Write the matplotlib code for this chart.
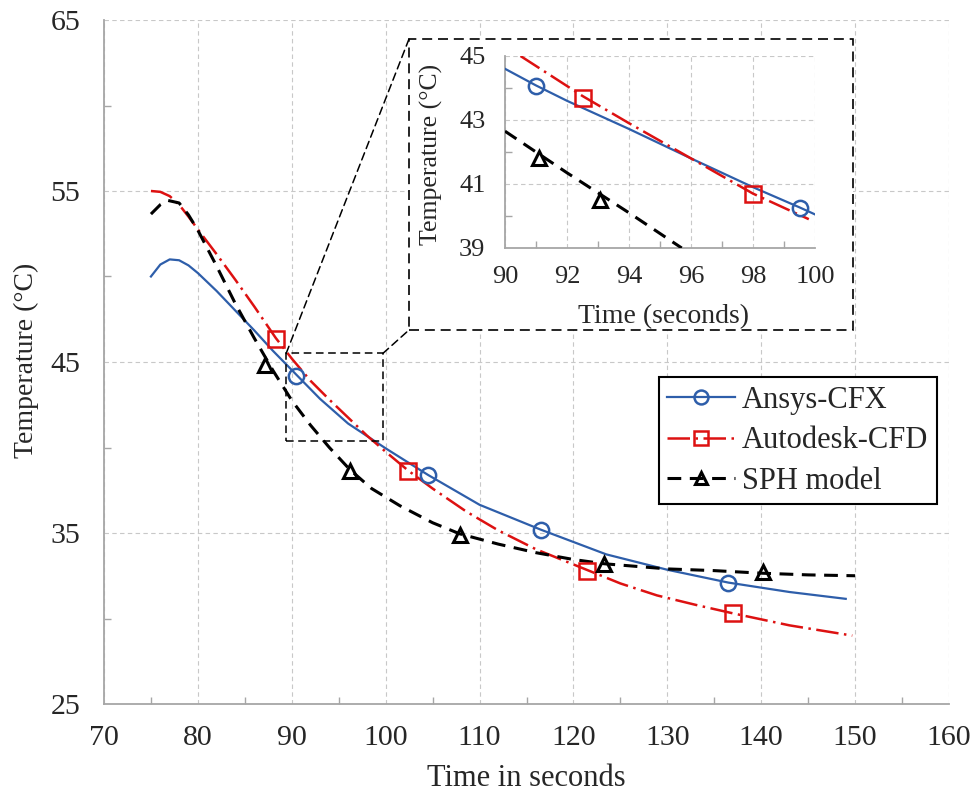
import matplotlib.pyplot as plt
from matplotlib.lines import Line2D
from matplotlib.patches import Rectangle, ConnectionPatch
from matplotlib.ticker import MultipleLocator, FixedLocator

plt.rcParams['font.family'] = ['Liberation Serif', 'DejaVu Serif']

# ---- main panel data ----
cfx_t = [75, 76, 77, 78, 79, 80, 82, 84, 86, 88, 90.5, 93, 96, 100, 104.5, 110, 116.5, 123.5, 130, 136.5, 143, 149]
cfx_T = [50.0, 50.7, 51.0, 50.95, 50.65, 50.2, 49.15, 48.0, 46.85, 45.65, 44.25, 42.85, 41.4, 39.95, 38.4, 36.65,
         35.2, 33.75, 32.85, 32.1, 31.55, 31.15]
cfx_mk_t = [90.5, 104.5, 116.5, 136.5]
cfx_mk_T = [44.2, 38.4, 35.2, 32.1]

cfd_t = [75, 76, 77, 78, 79, 80, 82, 84, 86, 88.3, 90, 92, 94, 96, 98, 100, 102.4, 105, 108.6, 112, 116,
         121.4, 125, 128.9, 133, 137, 143, 149.7]
cfd_T = [55.0, 54.95, 54.7, 54.2, 53.5, 52.75, 51.3, 49.8, 48.25, 46.4, 45.2, 43.9, 42.8, 41.75, 40.7, 39.75,
         38.65, 37.6, 36.25, 35.15, 34.05, 32.85, 32.05, 31.35, 30.8, 30.3, 29.6, 29.0]
cfd_mk_t = [88.3, 102.4, 121.4, 137.0]
cfd_mk_T = [46.35, 38.6, 32.8, 30.3]

sph_t = [75, 76, 76.8, 78, 79, 80, 82, 84, 86, 88, 90, 92, 94, 96.2, 98.5, 101.5, 105, 107.9, 112, 116, 120,
         123.3, 130, 135, 140, 145, 150]
sph_T = [53.65, 54.2, 54.45, 54.3, 53.6, 52.7, 50.6, 48.4, 46.4, 44.5, 42.75, 41.3, 40.0, 38.7, 37.6, 36.6, 35.6,
         34.95, 34.35, 33.85, 33.45, 33.2, 32.9, 32.8, 32.65, 32.55, 32.5]
sph_mk_t = [87.1, 96.2, 107.9, 123.3, 140.2]
sph_mk_T = [44.8, 38.6, 34.9, 33.2, 32.7]

# ---- inset data ----
in_cfx_t = [90, 91, 92, 94, 96, 98, 99.5, 100]
in_cfx_T = [44.6, 44.08, 43.6, 42.72, 41.8, 40.9, 40.27, 40.05]
in_cfx_mk_t = [91.0, 99.5]
in_cfx_mk_T = [44.06, 40.25]

in_cfd_t = [90.5, 92.5, 94, 96, 98, 99.8]
in_cfd_T = [45.0, 43.75, 42.9, 41.8, 40.7, 39.9]
in_cfd_mk_t = [92.5, 98.0]
in_cfd_mk_T = [43.7, 40.7]

in_sph_t = [90, 92, 94, 95.7]
in_sph_T = [42.65, 41.35, 40.1, 39.0]
in_sph_mk_t = [91.1, 93.06]
in_sph_mk_T = [41.8, 40.5]

labels = ['Ansys-CFX', 'Autodesk-CFD', 'SPH model']
zoom_box = (89.4, 40.4, 10.3, 5.1)   # x0, y0, width, height of the zoomed window

BLUE = '#2e5eaa'
RED = '#dd1111'
BLACK = '#000000'
GRID = '#c8c8c8'
SPINE = '#a6a6a6'
TXT = '#262626'

red_dash = (0, (9, 2.2, 1, 2.2))
blk_dash = (0, (4.5, 2.8))

styles = [
    dict(color=BLUE, lw=1.6, ls='-', marker='o', ms=11, mew=1.8),
    dict(color=RED, lw=1.8, ls=red_dash, marker='s', ms=11, mew=1.8),
    dict(color=BLACK, lw=2.2, ls=blk_dash, marker='^', ms=10, mew=2.2),
]


def style_axes(a, size, xpad, ypad):
    a.grid(True, which='major', color=GRID, ls=(0, (4, 3)), lw=0.8)
    a.set_axisbelow(True)
    for s in ['top', 'right']:
        a.spines[s].set_visible(False)
    for s in ['left', 'bottom']:
        a.spines[s].set_color(SPINE)
        a.spines[s].set_linewidth(1.3)
    a.tick_params(which='major', length=0, labelsize=size, labelcolor=TXT)
    a.tick_params(axis='x', which='major', pad=xpad)
    a.tick_params(axis='y', which='major', pad=ypad)
    a.tick_params(which='minor', direction='in', length=5, width=1, color=SPINE)


def draw_series(a, data):
    for (t, T, mt, mT), st in zip(data, styles):
        a.plot(t, T, color=st['color'], lw=st['lw'], ls=st['ls'], zorder=3)
        a.plot(mt, mT, ls='none', marker=st['marker'], ms=st['ms'], mfc='none',
               mec=st['color'], mew=st['mew'], zorder=4)


fig = plt.figure(figsize=(9.77, 7.92), dpi=100)
ax = fig.add_axes([104 / 977, 1 - 704 / 792, 845 / 977, 684 / 792])

draw_series(ax, [(cfx_t, cfx_T, cfx_mk_t, cfx_mk_T),
                 (cfd_t, cfd_T, cfd_mk_t, cfd_mk_T),
                 (sph_t, sph_T, sph_mk_t, sph_mk_T)])

ax.set_xlim(70, 160)
ax.set_ylim(25, 65)
ax.xaxis.set_major_locator(MultipleLocator(10))
ax.xaxis.set_minor_locator(MultipleLocator(5))
ax.yaxis.set_major_locator(FixedLocator([25, 35, 45, 55, 65]))
ax.yaxis.set_minor_locator(FixedLocator([30, 40, 50, 60]))
style_axes(ax, 21.5, 15, 17)

ax.set_xlabel('Time in seconds', fontsize=22, color=TXT)
ax.set_ylabel('Temperature (°C)', fontsize=20, color=TXT)
ax.xaxis.set_label_coords(0.5, -0.087)
ax.yaxis.set_label_coords(-0.077, 0.503)

# legend
handles = [Line2D([], [], color=st['color'], lw=st['lw'], ls=st['ls'], marker=st['marker'], ms=st['ms'] - 1,
                  mfc='none', mec=st['color'], mew=st['mew']) for st in styles]
leg = ax.legend(handles, labels, loc='upper right', bbox_to_anchor=(0.986, 0.478), fancybox=False,
                edgecolor='black', framealpha=1, fontsize=22, handlelength=2.2, handletextpad=0.25,
                labelspacing=0.38, borderpad=0.28, borderaxespad=0)
leg.get_frame().set_linewidth(1.5)
for t in leg.get_texts():
    t.set_color(TXT)
leg.set_zorder(5)

# zoom window in main panel
ax.add_patch(Rectangle(zoom_box[:2], zoom_box[2], zoom_box[3], fill=False, ec=BLACK, lw=1.1,
                       ls=(0, (5, 3)), zorder=5))

# dashed frame around the inset (figure coordinates)
bx0, bx1 = 409 / 977, 853 / 977
by0, by1 = 1 - 330 / 792, 1 - 39 / 792
fig.patches.append(Rectangle((bx0, by0), bx1 - bx0, by1 - by0, transform=fig.transFigure, fc='white',
                             ec=BLACK, lw=1.2, ls=(0, (6, 3.5)), zorder=2))
for xa, xb in [((zoom_box[0], zoom_box[1] + zoom_box[3]), (bx0, by1)),
               ((zoom_box[0] + zoom_box[2], zoom_box[1] + zoom_box[3]), (bx0, by0))]:
    fig.add_artist(ConnectionPatch(xyA=xa, coordsA=ax.transData, xyB=xb, coordsB=fig.transFigure,
                                   color=BLACK, lw=1.1, ls=(0, (5, 3)), zorder=2))

# inset axes
ax_in = fig.add_axes([505 / 977, 1 - 248 / 792, 310 / 977, 192 / 792])
ax_in.set_zorder(3)
draw_series(ax_in, [(in_cfx_t, in_cfx_T, in_cfx_mk_t, in_cfx_mk_T),
                    (in_cfd_t, in_cfd_T, in_cfd_mk_t, in_cfd_mk_T),
                    (in_sph_t, in_sph_T, in_sph_mk_t, in_sph_mk_T)])
ax_in.set_xlim(90, 100)
ax_in.set_ylim(39, 45)
ax_in.xaxis.set_major_locator(MultipleLocator(2))
ax_in.xaxis.set_minor_locator(MultipleLocator(1))
ax_in.yaxis.set_major_locator(FixedLocator([39, 41, 43, 45]))
ax_in.yaxis.set_minor_locator(FixedLocator([40, 42, 44]))
style_axes(ax_in, 19, 13, 14)
ax_in.set_xlabel('Time (seconds)', fontsize=20, color=TXT)
ax_in.set_ylabel('Temperature (°C)', fontsize=18.5, color=TXT)
ax_in.xaxis.set_label_coords(0.51, -0.29)
ax_in.yaxis.set_label_coords(-0.2, 0.487)

fig.savefig('out.png', dpi=100)
